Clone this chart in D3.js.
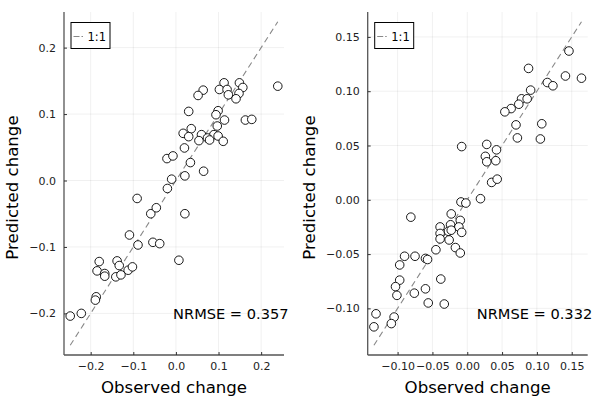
<!DOCTYPE html>
<html>
<head>
<meta charset="utf-8">
<script src="https://cdn.jsdelivr.net/npm/d3@7"></script>
<style>
  body { margin: 0; background: #fff; }
  svg { display: block; font-family: "DejaVu Sans", sans-serif; }
</style>
</head>
<body>
<svg id="chart" width="600" height="400"></svg>
<script>
// data
const leftObserved = [
  0.239, 0.113, 0.149, 0.102, 0.120, 0.157, 0.148, 0.123, 0.141, 0.064,
  0.052, 0.030, 0.099, 0.094, 0.163, 0.178, 0.114, 0.097, 0.036, 0.017,
  0.030, 0.060, 0.089, 0.099, 0.054, 0.074, 0.079, 0.111, -0.021, -0.007,
  0.020, 0.034, 0.021, 0.065, -0.010, -0.020, -0.091, -0.059, -0.046, 0.021,
  -0.109, -0.089, -0.054, -0.038, 0.007, -0.180, -0.138, -0.133, -0.185, -0.167,
  -0.167, -0.141, -0.129, -0.112, -0.102, -0.187, -0.189, -0.222, -0.248
];
const leftPredicted = [
  0.142, 0.147, 0.147, 0.137, 0.137, 0.140, 0.131, 0.129, 0.123, 0.136,
  0.128, 0.104, 0.105, 0.099, 0.091, 0.092, 0.091, 0.082, 0.078, 0.071,
  0.066, 0.069, 0.069, 0.067, 0.060, 0.064, 0.061, 0.059, 0.033, 0.037,
  0.049, 0.027, 0.007, 0.014, 0.002, -0.012, -0.027, -0.050, -0.041, -0.050,
  -0.082, -0.097, -0.093, -0.095, -0.120, -0.122, -0.121, -0.128, -0.136, -0.140,
  -0.144, -0.145, -0.142, -0.135, -0.130, -0.175, -0.180, -0.200, -0.204
];
const rightObserved = [
  0.146, 0.141, 0.164, 0.115, 0.123, 0.088, 0.091, 0.078, 0.086, 0.074,
  0.063, 0.054, 0.070, 0.107, 0.072, 0.105, -0.008, 0.028, 0.026, 0.028,
  0.041, 0.042, 0.035, 0.043, 0.019, -0.009, -0.002, -0.081, -0.023, -0.010,
  -0.039, -0.024, -0.012, -0.027, -0.023, -0.039, -0.008, -0.039, -0.026, -0.045,
  -0.017, -0.010, -0.090, -0.075, -0.060, -0.057, -0.097, -0.097, -0.038, -0.103,
  -0.101, -0.076, -0.060, -0.056, -0.033, -0.131, -0.105, -0.109, -0.134
];
const rightPredicted = [
  0.137, 0.114, 0.112, 0.108, 0.105, 0.121, 0.101, 0.093, 0.093, 0.088,
  0.084, 0.081, 0.069, 0.070, 0.057, 0.056, 0.049, 0.051, 0.040, 0.035,
  0.036, 0.046, 0.016, 0.019, 0.001, -0.002, -0.003, -0.016, -0.013, -0.019,
  -0.025, -0.023, -0.025, -0.029, -0.028, -0.031, -0.030, -0.036, -0.037, -0.046,
  -0.044, -0.049, -0.052, -0.052, -0.054, -0.055, -0.060, -0.074, -0.073, -0.080,
  -0.088, -0.086, -0.082, -0.095, -0.096, -0.105, -0.108, -0.114, -0.117
];
const leftTicks = [-0.2, -0.1, 0.0, 0.1, 0.2];
const rightTicks = [-0.10, -0.05, 0.00, 0.05, 0.10, 0.15];
const nrmseValues = ["0.357", "0.332"];

const svg = d3.select("#chart");
const margin = { top: 12, bottom: 45 };
const plotHeight = 400 - margin.top - margin.bottom;
const plotWidth = 220;

function renderPanel(left, labelX, obs, pred, ticks, decimals, nrmse) {
  const g = svg.append("g").attr("transform", `translate(${left}, ${margin.top})`);

  // 1:1 line spans the data, axes widened 3% each side
  const lo = d3.min([...obs, ...pred]);
  const hi = d3.max([...obs, ...pred]);
  const pad = (hi - lo) * 0.03;
  const domain = [lo - pad, hi + pad];

  const xScale = d3.scaleLinear().domain(domain).range([0, plotWidth]);
  const yScale = d3.scaleLinear().domain(domain).range([plotHeight, 0]);
  const fmt = (d) => d3.format(`.${decimals}f`)(d).replace("-", "\u2212");

  // grid
  g.selectAll(".gx").data(ticks).join("line")
    .attr("x1", (d) => xScale(d)).attr("x2", (d) => xScale(d))
    .attr("y1", 0).attr("y2", plotHeight)
    .attr("stroke", "#000").attr("stroke-opacity", 0.1).attr("stroke-width", 0.6);
  g.selectAll(".gy").data(ticks).join("line")
    .attr("y1", (d) => yScale(d)).attr("y2", (d) => yScale(d))
    .attr("x1", 0).attr("x2", plotWidth)
    .attr("stroke", "#000").attr("stroke-opacity", 0.1).attr("stroke-width", 0.6);

  // axes
  const xAxis = d3.axisBottom(xScale).tickValues(ticks).tickSize(-3).tickPadding(7).tickFormat(fmt);
  const yAxis = d3.axisLeft(yScale).tickValues(ticks).tickSize(-3).tickPadding(8).tickFormat(fmt);

  const xAxisG = g.append("g").attr("transform", `translate(0, ${plotHeight})`).call(xAxis);
  const yAxisG = g.append("g").call(yAxis);
  [xAxisG, yAxisG].forEach((a) => {
    a.select(".domain").attr("stroke", "#555").attr("stroke-width", 1.3);
    a.selectAll(".tick line").attr("stroke", "#333");
    a.selectAll(".tick text").attr("font-size", 11).attr("fill", "#222")
      .attr("font-family", "DejaVu Sans, sans-serif");
  });
  xAxisG.selectAll(".domain").attr("d", `M0,0H${plotWidth}`);
  yAxisG.selectAll(".domain").attr("d", `M0,0V${plotHeight}`);

  // 1:1 line
  g.append("line")
    .attr("x1", xScale(lo)).attr("y1", yScale(lo))
    .attr("x2", xScale(hi)).attr("y2", yScale(hi))
    .attr("stroke", "#888").attr("stroke-width", 1.1)
    .attr("stroke-dasharray", "6,4");

  // points
  g.selectAll(".pt").data(obs.map((o, i) => [o, pred[i]])).join("circle")
    .attr("cx", (d) => xScale(d[0])).attr("cy", (d) => yScale(d[1]))
    .attr("r", 4.3).attr("fill", "#fff").attr("stroke", "#000").attr("stroke-width", 0.9);

  // legend
  const leg = g.append("g").attr("transform", "translate(7, 10.5)");
  leg.append("rect").attr("width", 39).attr("height", 26)
    .attr("fill", "#fff").attr("stroke", "#000").attr("stroke-width", 1);
  leg.append("line").attr("x1", 2.5).attr("x2", 12).attr("y1", 14).attr("y2", 14)
    .attr("stroke", "#888").attr("stroke-width", 1.1).attr("stroke-dasharray", "6,2");
  leg.append("text").attr("x", 16.5).attr("y", 18).attr("font-size", 11.5).text("1:1");

  // NRMSE
  g.append("text").attr("x", plotWidth + 4.5).attr("y", 307)
    .attr("text-anchor", "end").attr("font-size", 14.6)
    .text(`NRMSE = ${nrmse}`);

  // labels
  g.append("text").attr("x", plotWidth / 2).attr("y", 392.5 - margin.top)
    .attr("text-anchor", "middle").attr("font-size", 16.6).text("Observed change");
  g.append("text")
    .attr("transform", `translate(${labelX - left}, ${plotHeight / 2 + 4}) rotate(-90)`)
    .attr("text-anchor", "middle").attr("font-size", 16.6).text("Predicted change");
}

renderPanel(64, 18, leftObserved, leftPredicted, leftTicks, 1, nrmseValues[0]);
renderPanel(367.7, 315, rightObserved, rightPredicted, rightTicks, 2, nrmseValues[1]);
</script>
</body>
</html>
